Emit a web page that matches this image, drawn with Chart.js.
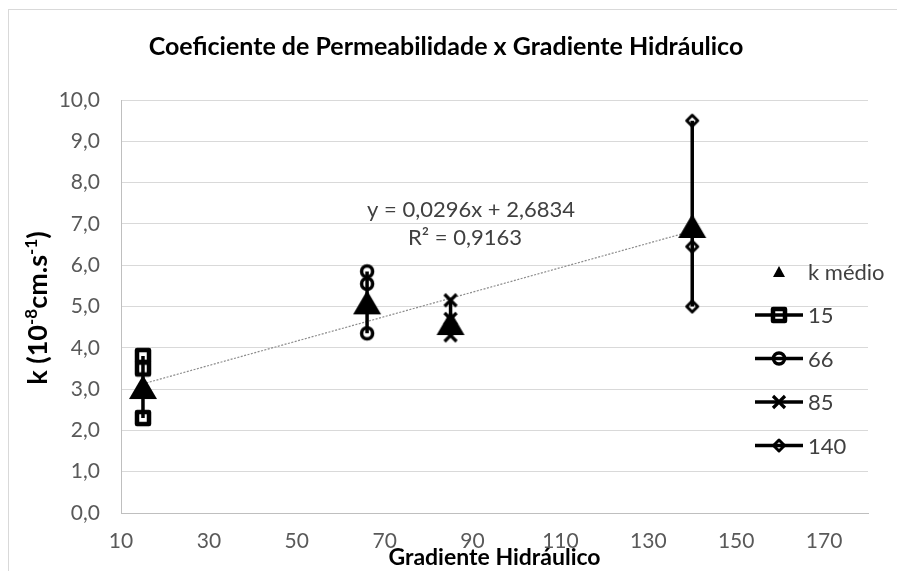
<!DOCTYPE html>
<html>
<head>
<meta charset="utf-8">
<script src="https://cdn.jsdelivr.net/npm/chart.js@4/dist/chart.umd.min.js"></script>
<style>
html,body{margin:0;padding:0;background:#fff;}
#wrap{width:897px;height:571px;position:relative;}
</style>
</head>
<body>
<div id="wrap"><canvas id="c" width="897" height="571"></canvas></div>
<script>
// ---- data ----
const xGradients = [15, 66, 85, 140];
const kMedio = [3.05, 5.1, 4.6, 6.95];
const serie15 = [3.8, 3.5, 2.3];
const serie66 = [5.85, 5.55, 4.35];
const serie85 = [5.15, 4.7, 4.3];
const serie140 = [9.5, 6.45, 5.0];
const seriesNames = ['k médio', '15', '66', '85', '140'];
const xTickLabels = [10, 30, 50, 70, 90, 110, 130, 150, 170];
const yTickLabels = [0, 1, 2, 3, 4, 5, 6, 7, 8, 9, 10];
const trendSlope = 0.0296;
const trendIntercept = 2.6834;
const trendText = ['y = 0,0296x + 2,6834', 'R² = 0,9163'];
const chartTitle = 'Coeficiente de Permeabilidade x Gradiente Hidráulico';
const xTitle = 'Gradiente Hidráulico';

const FONT = 'Lato, "Open Sans", sans-serif';

// ---- markers ----
function drawMarker(ctx, kind, cx, cy, small) {
  ctx.save();
  ctx.strokeStyle = '#000';
  ctx.fillStyle = '#000';
  ctx.lineJoin = 'round';
  ctx.lineCap = 'round';
  if (kind === 'triangle') {
    const w = small ? 12 : 28, h = small ? 11 : 24;
    ctx.beginPath();
    ctx.moveTo(cx, cy - h / 2);
    ctx.lineTo(cx + w / 2, cy + h / 2);
    ctx.lineTo(cx - w / 2, cy + h / 2);
    ctx.closePath();
    ctx.fill();
  } else if (kind === 'square') {
    ctx.lineWidth = 4.5;
    ctx.strokeRect(cx - 6, cy - 6, 12, 12);
  } else if (kind === 'circle') {
    ctx.lineWidth = 3.5;
    ctx.beginPath();
    ctx.arc(cx, cy, 5.5, 0, Math.PI * 2);
    ctx.stroke();
  } else if (kind === 'x') {
    ctx.lineWidth = 3.2;
    ctx.lineCap = 'butt';
    const d = 6;
    ctx.beginPath();
    ctx.moveTo(cx - d, cy - d); ctx.lineTo(cx + d, cy + d);
    ctx.moveTo(cx + d, cy - d); ctx.lineTo(cx - d, cy + d);
    ctx.stroke();
  } else if (kind === 'diamond') {
    ctx.lineWidth = 3;
    const r = 5.5;
    ctx.beginPath();
    ctx.moveTo(cx, cy - r); ctx.lineTo(cx + r, cy); ctx.lineTo(cx, cy + r); ctx.lineTo(cx - r, cy);
    ctx.closePath();
    ctx.stroke();
  }
  ctx.restore();
}
function markerCanvas(kind) {
  const c = document.createElement('canvas');
  c.width = 32; c.height = 32;
  drawMarker(c.getContext('2d'), kind, 16, 16, false);
  return c;
}
const kinds = ['triangle', 'square', 'circle', 'x', 'diamond'];

function pts(x, arr) { return arr.map(v => ({x: x, y: v})); }

const trendX = [Math.min(...xGradients), Math.max(...xGradients)];

const seriesData = [
  xGradients.map((x, i) => ({x: x, y: kMedio[i]})),
  pts(xGradients[0], serie15),
  pts(xGradients[1], serie66),
  pts(xGradients[2], serie85),
  pts(xGradients[3], serie140)
];

const datasets = seriesData.map((d, i) => ({
  label: seriesNames[i],
  data: d,
  showLine: i > 0,
  borderColor: '#000',
  backgroundColor: '#000',
  borderWidth: 3.5,
  borderCapStyle: 'butt',
  pointStyle: markerCanvas(kinds[i]),
  pointRadius: 6,
  pointHoverRadius: 6
}));
datasets.push({
  label: 'trend',
  data: trendX.map(x => ({x: x, y: trendSlope * x + trendIntercept})),
  showLine: true,
  borderColor: '#8c8c8c',
  borderWidth: 1.2,
  borderDash: [2, 1.5],
  pointRadius: 0
});

const extras = {
  id: 'extras',
  beforeDraw(chart) {
    const ctx = chart.ctx;
    ctx.save();
    ctx.strokeStyle = '#d9d9d9';
    ctx.lineWidth = 1;
    ctx.strokeRect(8.5, 9.5, 1000, 1000);
    ctx.restore();
  },
  afterDraw(chart) {
    const ctx = chart.ctx;
    ctx.save();
    // chart title
    ctx.fillStyle = '#000';
    ctx.font = 'bold 25px ' + FONT;
    ctx.textAlign = 'center';
    ctx.textBaseline = 'middle';
    ctx.fillText(chartTitle, 446, 47);

    // trend label
    ctx.fillStyle = '#404040';
    ctx.font = '22px ' + FONT;
    ctx.fillText(trendText[0], 471, 210);
    ctx.fillText(trendText[1], 465, 238);

    // legend
    const x0 = 755, x1 = 803, mx = 779, tx = 808;
    seriesNames.forEach((name, i) => {
      const y = 271.5 + i * 43.5;
      if (i > 0) {
        ctx.strokeStyle = '#000';
        ctx.lineWidth = 3.5;
        ctx.beginPath();
        ctx.moveTo(x0, y); ctx.lineTo(x1, y);
        ctx.stroke();
      }
      drawMarker(ctx, kinds[i], mx, y, true);
      ctx.fillStyle = '#404040';
      ctx.font = '22px ' + FONT;
      ctx.textAlign = 'left';
      ctx.textBaseline = 'middle';
      ctx.fillText(name, tx, y + 1);
    });

    // y axis title with superscripts
    ctx.translate(38, 308);
    ctx.rotate(-Math.PI / 2);
    ctx.fillStyle = '#000';
    const big = 'bold 27px ' + FONT, sm = 'bold 17px ' + FONT;
    const parts = [['k (10', big, 0], ['-8', sm, -10], ['cm.s', big, 0], ['-1', sm, -10], [')', big, 0]];
    let total = 0;
    parts.forEach(p => { ctx.font = p[1]; total += ctx.measureText(p[0]).width; });
    let x = -total / 2;
    ctx.textAlign = 'left';
    ctx.textBaseline = 'alphabetic';
    parts.forEach(p => {
      ctx.font = p[1];
      ctx.fillText(p[0], x, 9 + p[2]);
      x += ctx.measureText(p[0]).width;
    });
    ctx.restore();
  }
};

new Chart(document.getElementById('c'), {
  type: 'scatter',
  data: {datasets: datasets},
  options: {
    responsive: false,
    animation: false,
    events: [],
    layout: {padding: {left: 0, right: 29, top: 100, bottom: 0}},
    plugins: {
      legend: {display: false},
      tooltip: {enabled: false},
      title: {display: false}
    },
    scales: {
      x: {
        type: 'linear',
        min: 10,
        max: 180,
        afterBuildTicks(scale) { scale.ticks = xTickLabels.map(v => ({value: v})); },
        afterFit(scale) { scale.height = 58; },
        grid: {display: false, drawTicks: false},
        border: {display: true, color: '#bfbfbf', width: 1},
        ticks: {
          padding: 16,
          color: '#595959',
          font: {family: FONT, size: 21},
          maxRotation: 0,
          autoSkip: false,
          callback: v => String(v)
        },
        title: {
          display: true,
          text: xTitle,
          color: '#000',
          font: {family: FONT, size: 23, weight: 'bold', lineHeight: 1.1},
          padding: {top: 0, bottom: 1}
        }
      },
      y: {
        type: 'linear',
        min: 0,
        max: 10,
        afterBuildTicks(scale) { scale.ticks = yTickLabels.map(v => ({value: v})); },
        afterFit(scale) { scale.width = 121; },
        grid: {color: '#d9d9d9', lineWidth: 1, drawTicks: false},
        border: {display: true, color: '#bfbfbf', width: 1},
        ticks: {
          padding: 21,
          color: '#595959',
          font: {family: FONT, size: 21},
          callback: v => Number(v).toFixed(1).replace('.', ',')
        }
      }
    }
  },
  plugins: [extras]
});
</script>
</body>
</html>
